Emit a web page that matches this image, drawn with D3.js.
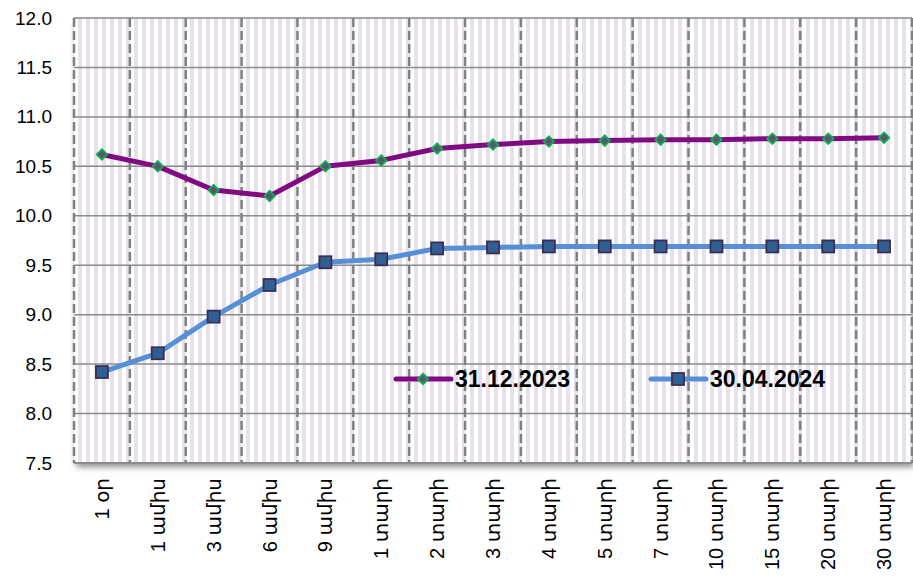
<!DOCTYPE html>
<html lang="hy">
<head>
<meta charset="utf-8">
<title>Yield curve</title>
<script src="https://cdn.jsdelivr.net/npm/d3@7"></script>
<style>
  body { margin: 0; background: #fff; }
  svg { display: block; font-family: "Liberation Sans", "DejaVu Sans", sans-serif; }
</style>
</head>
<body>
<div id="chart"></div>
<script>
// data
var terms = ["1 օր", "1 ամիս", "3 ամիս", "6 ամիս", "9 ամիս", "1 տարի", "2 տարի", "3 տարի",
             "4 տարի", "5 տարի", "7 տարի", "10 տարի", "15 տարի", "20 տարի", "30 տարի"];
var dec2023 = [10.62, 10.50, 10.26, 10.20, 10.50, 10.56, 10.68, 10.72, 10.75, 10.76, 10.77, 10.77, 10.78, 10.78, 10.79];
var apr2024 = [8.42, 8.61, 8.98, 9.30, 9.53, 9.56, 9.67, 9.68, 9.69, 9.69, 9.69, 9.69, 9.69, 9.69, 9.69];
var yTicks = [7.5, 8.0, 8.5, 9.0, 9.5, 10.0, 10.5, 11.0, 11.5, 12.0];
var seriesNames = ["31.12.2023", "30.04.2024"];

var W = 913, H = 577;
var margin = { top: 18, right: 1, bottom: 114, left: 74 };
var width = W - margin.left - margin.right,
    height = H - margin.top - margin.bottom;

var svg = d3.select("#chart").append("svg")
    .attr("width", W).attr("height", H);

var defs = svg.append("defs");
var pat = defs.append("pattern")
    .attr("id", "stripes")
    .attr("patternUnits", "userSpaceOnUse")
    .attr("x", margin.left).attr("y", 0)
    .attr("width", 8).attr("height", 8);
pat.append("rect").attr("width", 8).attr("height", 8).attr("fill", "#fff");
pat.append("rect").attr("x", 2).attr("width", 4).attr("height", 8).attr("fill", "#e6e1ed");

var shadow = defs.append("filter").attr("id", "shadow")
    .attr("x", "-5%").attr("y", "-5%").attr("width", "110%").attr("height", "115%");
shadow.append("feGaussianBlur").attr("in", "SourceAlpha").attr("stdDeviation", 3);
shadow.append("feOffset").attr("dx", 2).attr("dy", 4).attr("result", "b");
shadow.append("feComponentTransfer").append("feFuncA").attr("type", "linear").attr("slope", 0.45);
var fm = shadow.append("feMerge");
fm.append("feMergeNode");
fm.append("feMergeNode").attr("in", "SourceGraphic");

var g = svg.append("g")
    .attr("transform", "translate(" + margin.left + "," + margin.top + ")");

var x = d3.scaleBand().domain(terms).range([0, width]);
var y = d3.scaleLinear().domain([7.5, 12]).range([height, 0]);

// plot background with stripes and a soft shadow
g.append("rect")
    .attr("width", width).attr("height", height)
    .attr("fill", "url(#stripes)")
    .attr("filter", "url(#shadow)");

// horizontal grid
g.selectAll(".hgrid").data(yTicks).enter().append("line")
    .attr("x1", 0).attr("x2", width)
    .attr("y1", function(d) { return y(d); })
    .attr("y2", function(d) { return y(d); })
    .attr("stroke", "#8a8a8a").attr("stroke-width", 1.5);

// vertical dashed grid at category boundaries
var bounds = terms.map(function(t) { return x(t); }).concat([width]);
g.selectAll(".vgrid").data(bounds).enter().append("line")
    .attr("x1", function(d) { return d; }).attr("x2", function(d) { return d; })
    .attr("y1", 0).attr("y2", height)
    .attr("stroke", "#808080").attr("stroke-width", 2.5)
    .attr("stroke-dasharray", "9,4");

// bottom axis line
g.append("line")
    .attr("x1", 0).attr("x2", width).attr("y1", height).attr("y2", height)
    .attr("stroke", "#8a8a8a").attr("stroke-width", 2);

// y labels
var yAxis = g.append("g")
    .call(d3.axisLeft(y).tickValues(yTicks).tickFormat(d3.format(".1f")).tickSize(0).tickPadding(22));
yAxis.select(".domain").remove();
yAxis.selectAll("text").attr("font-size", 19).attr("fill", "#000")
    .style("font-family", "'Liberation Sans', sans-serif");

// x labels
var xAxis = g.append("g")
    .attr("transform", "translate(0," + height + ")")
    .call(d3.axisBottom(x).tickSize(0).tickPadding(0));
xAxis.select(".domain").remove();
xAxis.selectAll("text")
    .attr("font-size", 20).attr("fill", "#000")
    .style("font-family", "'Liberation Sans', 'DejaVu Sans', sans-serif")
    .attr("text-anchor", "end")
    .attr("dy", "0.35em")
    .attr("transform", "translate(0,15) rotate(-90)")
    .attr("y", 0).attr("x", 0);

var cx = function(i) { return x(terms[i]) + x.bandwidth() / 2; };
var line = d3.line()
    .x(function(d, i) { return cx(i); })
    .y(function(d) { return y(d); });

var purple = "#800a80", blue = "#568fd6";

g.append("path").datum(dec2023)
    .attr("d", line).attr("fill", "none")
    .attr("stroke", purple).attr("stroke-width", 5).attr("stroke-linejoin", "round");
g.append("path").datum(apr2024)
    .attr("d", line).attr("fill", "none")
    .attr("stroke", blue).attr("stroke-width", 5).attr("stroke-linejoin", "round");

var diamond = d3.symbol().type(d3.symbolDiamond2).size(70);
function drawDiamond(sel) {
  sel.append("path").attr("d", diamond)
    .attr("fill", "#5f5470").attr("stroke", "#0bb04f").attr("stroke-width", 1.8);
}
function drawSquare(sel) {
  sel.append("rect").attr("x", -6).attr("y", -6).attr("width", 12).attr("height", 12)
    .attr("fill", "#2f5f93").attr("stroke", "#3c2f55").attr("stroke-width", 1.8);
}

g.selectAll(".m1").data(dec2023).enter().append("g")
    .attr("transform", function(d, i) { return "translate(" + cx(i) + "," + y(d) + ")"; })
    .call(drawDiamond);
g.selectAll(".m2").data(apr2024).enter().append("g")
    .attr("transform", function(d, i) { return "translate(" + cx(i) + "," + y(d) + ")"; })
    .call(drawSquare);

// legend
var legend = [
  { name: seriesNames[0], color: purple, marker: drawDiamond, x: 322 },
  { name: seriesNames[1], color: blue, marker: drawSquare, x: 577 }
];
var lg = g.selectAll(".legend").data(legend).enter().append("g")
    .attr("transform", function(d) { return "translate(" + d.x + "," + (379 - margin.top) + ")"; });
lg.append("line").attr("x1", 0).attr("x2", 55).attr("y1", 0).attr("y2", 0)
    .attr("stroke", function(d) { return d.color; }).attr("stroke-width", 5)
    .attr("stroke-linecap", "round");
lg.each(function(d) {
  var m = d3.select(this).append("g").attr("transform", "translate(27,0)");
  d.marker(m);
});
lg.append("text").attr("x", 59).attr("y", 0).attr("dy", "0.35em")
    .attr("font-size", 23).attr("font-weight", "bold").attr("fill", "#000")
    .text(function(d) { return d.name; });
</script>
</body>
</html>
